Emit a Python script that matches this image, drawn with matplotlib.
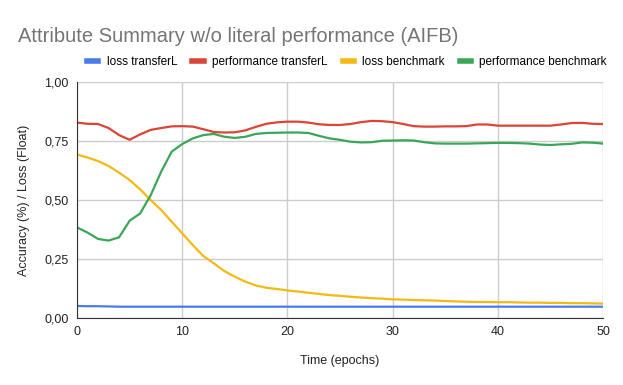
import numpy as np
import matplotlib
matplotlib.use('Agg')
import matplotlib.pyplot as plt
from matplotlib.ticker import FuncFormatter

plt.rcParams['font.family'] = ['Liberation Sans', 'DejaVu Sans']

# data, one value per epoch (0..50)
epochs = list(range(51))
loss_transfer = [0.051, 0.050, 0.050, 0.049, 0.048] + [0.048] * 46
perf_transfer = [0.828, 0.823, 0.822, 0.805, 0.775, 0.755, 0.778, 0.797, 0.805, 0.812,
                 0.813, 0.811, 0.800, 0.788, 0.786, 0.787, 0.795, 0.810, 0.823, 0.829,
                 0.832, 0.832, 0.828, 0.821, 0.818, 0.818, 0.822, 0.830, 0.835, 0.834,
                 0.830, 0.822, 0.813, 0.811, 0.811, 0.812, 0.812, 0.813, 0.820, 0.820,
                 0.815, 0.815, 0.815, 0.815, 0.815, 0.815, 0.820, 0.826, 0.827, 0.823,
                 0.822]
loss_bench = [0.693, 0.680, 0.665, 0.644, 0.616, 0.585, 0.545, 0.500, 0.458, 0.408,
              0.359, 0.309, 0.263, 0.232, 0.199, 0.175, 0.154, 0.138, 0.128, 0.123,
              0.117, 0.112, 0.107, 0.102, 0.097, 0.094, 0.090, 0.087, 0.084, 0.082,
              0.079, 0.078, 0.076, 0.075, 0.074, 0.072, 0.070, 0.069, 0.068, 0.068,
              0.067, 0.067, 0.066, 0.065, 0.065, 0.064, 0.064, 0.063, 0.063, 0.062,
              0.061]
perf_bench = [0.384, 0.362, 0.335, 0.328, 0.342, 0.412, 0.443, 0.520, 0.620, 0.705,
              0.737, 0.761, 0.775, 0.780, 0.768, 0.763, 0.768, 0.780, 0.784, 0.785,
              0.786, 0.786, 0.784, 0.772, 0.761, 0.755, 0.747, 0.744, 0.745, 0.751,
              0.752, 0.753, 0.752, 0.745, 0.740, 0.739, 0.739, 0.739, 0.740, 0.741,
              0.742, 0.742, 0.741, 0.739, 0.735, 0.733, 0.736, 0.738, 0.744, 0.743,
              0.739]

labels = ['loss transferL', 'performance transferL', 'loss benchmark', 'performance benchmark']
colors = ['#4a7bea', '#db4437', '#f4b912', '#3aa757']

fig = plt.figure(figsize=(6.23, 3.85), dpi=100)
ax = fig.add_axes([0.1236, 0.174, 0.8444, 0.613])

for y, lab, c in zip([loss_transfer, perf_transfer, loss_bench, perf_bench], labels, colors):
    ax.plot(epochs, y, color=c, lw=1.6, label=lab, solid_joinstyle='round')

ax.set_xlim(0, 50)
ax.set_ylim(0, 1)
ax.set_xticks([0, 10, 20, 30, 40, 50])
ax.set_yticks([0, 0.25, 0.5, 0.75, 1.0])
ax.yaxis.set_major_formatter(FuncFormatter(lambda v, p: f'{v:.2f}'.replace('.', ',')))
ax.grid(True, color='#cccccc', lw=1)
ax.set_axisbelow(True)
ax.tick_params(length=0, labelsize=9, colors='#222222', pad=6)
for s in ['top', 'right']:
    ax.spines[s].set_visible(False)
ax.spines['left'].set_color('#333333')
ax.spines['bottom'].set_color('#333333')

ax.set_xlabel('Time (epochs)', fontsize=9, color='#222222', labelpad=12)
ax.set_ylabel('Accuracy (%) / Loss (Float)', fontsize=9, color='#222222', labelpad=10)

fig.text(0.029, 0.905, 'Attribute Summary w/o literal performance (AIFB)',
         fontsize=14.5, color='#757575', va='center')

handles = [plt.Line2D([], [], color=c, lw=4) for c in colors]
fig.legend(handles, labels, loc='center', bbox_to_anchor=(0.557, 0.838), ncol=4, frameon=False,
           fontsize=8.5, handlelength=0.95, handletextpad=0.7, columnspacing=1.3,
           borderpad=0, borderaxespad=0)

fig.savefig('out.png', dpi=100)
